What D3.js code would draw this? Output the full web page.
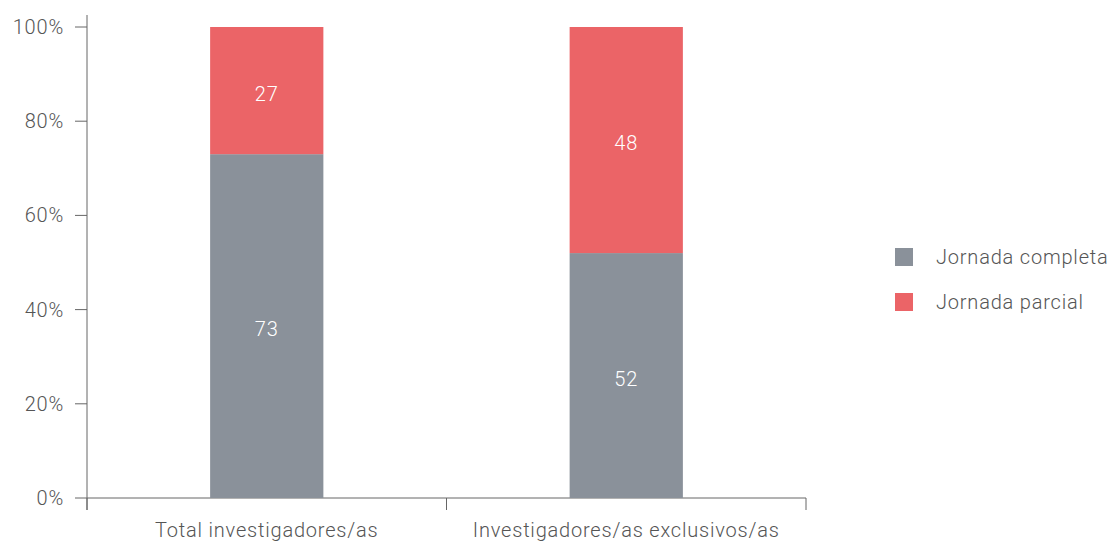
<!DOCTYPE html>
<html>
<head>
<meta charset="utf-8">
<script src="https://cdnjs.cloudflare.com/ajax/libs/d3/7.8.5/d3.min.js"></script>
<style>
  body { margin: 0; background: #fff; }
  text { font-family: Roboto, "DejaVu Sans", sans-serif; letter-spacing: 0.8px; }
</style>
</head>
<body>
<div id="chart"></div>
<script>
var categories = ['Total investigadores/as', 'Investigadores/as exclusivos/as'];
var seriesNames = ['Jornada completa', 'Jornada parcial'];
var completa = [73, 52];
var parcial = [27, 48];
var yTicks = [0, 20, 40, 60, 80, 100];

var colors = ['#8a919a', '#eb6467'];
var textColor = '#555';
var fontSize = 20;

var width = 1116, height = 543;
var margin = { top: 27, left: 87, right: 310, bottom: 45 };

var svg = d3.select('#chart').append('svg')
    .attr('width', width)
    .attr('height', height);

var x = d3.scaleBand()
    .domain(categories)
    .range([margin.left, 806])
    .paddingInner(0.685)
    .paddingOuter(0.3425);

var y = d3.scaleLinear()
    .domain([0, 100])
    .range([498, 27]);

var rows = categories.map(function (c, i) {
    return { cat: c, 'Jornada completa': completa[i], 'Jornada parcial': parcial[i] };
});
var stacked = d3.stack().keys(seriesNames)(rows);

// y axis
var yAxis = svg.append('g')
    .attr('transform', 'translate(' + margin.left + ',0)');
yAxis.append('line')
    .attr('x1', 0).attr('x2', 0)
    .attr('y1', 15).attr('y2', 510)
    .attr('stroke', '#666');
yAxis.selectAll('.tick').data(yTicks).enter().append('line')
    .attr('x1', -12).attr('x2', 0)
    .attr('y1', function (d) { return y(d); })
    .attr('y2', function (d) { return y(d); })
    .attr('stroke', '#666');
yAxis.selectAll('.lbl').data(yTicks).enter().append('text')
    .attr('x', -23)
    .attr('y', function (d) { return y(d); })
    .attr('dy', '0.35em')
    .attr('text-anchor', 'end')
    .attr('fill', textColor)
    .attr('font-size', fontSize)
    .attr('font-weight', 300)
    .text(function (d) { return d + '%'; });

// x axis
var xAxis = svg.append('g');
xAxis.append('line')
    .attr('x1', margin.left).attr('x2', 806)
    .attr('y1', 498).attr('y2', 498)
    .attr('stroke', '#666');
var bounds = [margin.left, (x(categories[0]) + x(categories[1]) + x.bandwidth()) / 2, 806];
xAxis.selectAll('.tick').data(bounds).enter().append('line')
    .attr('x1', function (d) { return d; })
    .attr('x2', function (d) { return d; })
    .attr('y1', 498).attr('y2', 510)
    .attr('stroke', '#666');
xAxis.selectAll('.lbl').data(categories).enter().append('text')
    .attr('x', function (d) { return x(d) + x.bandwidth() / 2; })
    .attr('y', 537)
    .attr('text-anchor', 'middle')
    .attr('fill', textColor)
    .attr('font-size', fontSize)
    .attr('font-weight', 300)
    .text(function (d) { return d; });

// bars
var layers = svg.selectAll('.layer').data(stacked).enter().append('g')
    .attr('fill', function (d, i) { return colors[i]; });
layers.selectAll('rect').data(function (d) { return d; }).enter().append('rect')
    .attr('x', function (d) { return x(d.data.cat); })
    .attr('width', x.bandwidth())
    .attr('y', function (d) { return y(d[1]); })
    .attr('height', function (d) { return y(d[0]) - y(d[1]); });
layers.selectAll('text').data(function (d) { return d; }).enter().append('text')
    .attr('x', function (d) { return x(d.data.cat) + x.bandwidth() / 2; })
    .attr('y', function (d) { return (y(d[0]) + y(d[1])) / 2; })
    .attr('dy', '0.5em')
    .attr('text-anchor', 'middle')
    .attr('fill', '#fff')
    .attr('font-size', fontSize)
    .attr('font-weight', 300)
    .text(function (d) { return d[1] - d[0]; });

// legend
var legend = svg.append('g').attr('transform', 'translate(895,248)');
var items = legend.selectAll('g').data(seriesNames).enter().append('g')
    .attr('transform', function (d, i) { return 'translate(0,' + (i * 45) + ')'; });
items.append('rect')
    .attr('width', 18).attr('height', 18)
    .attr('fill', function (d, i) { return colors[i]; });
items.append('text')
    .attr('x', 41).attr('y', 9)
    .attr('dy', '0.35em')
    .attr('fill', textColor)
    .attr('font-size', fontSize)
    .attr('font-weight', 300)
    .text(function (d) { return d; });
</script>
</body>
</html>
